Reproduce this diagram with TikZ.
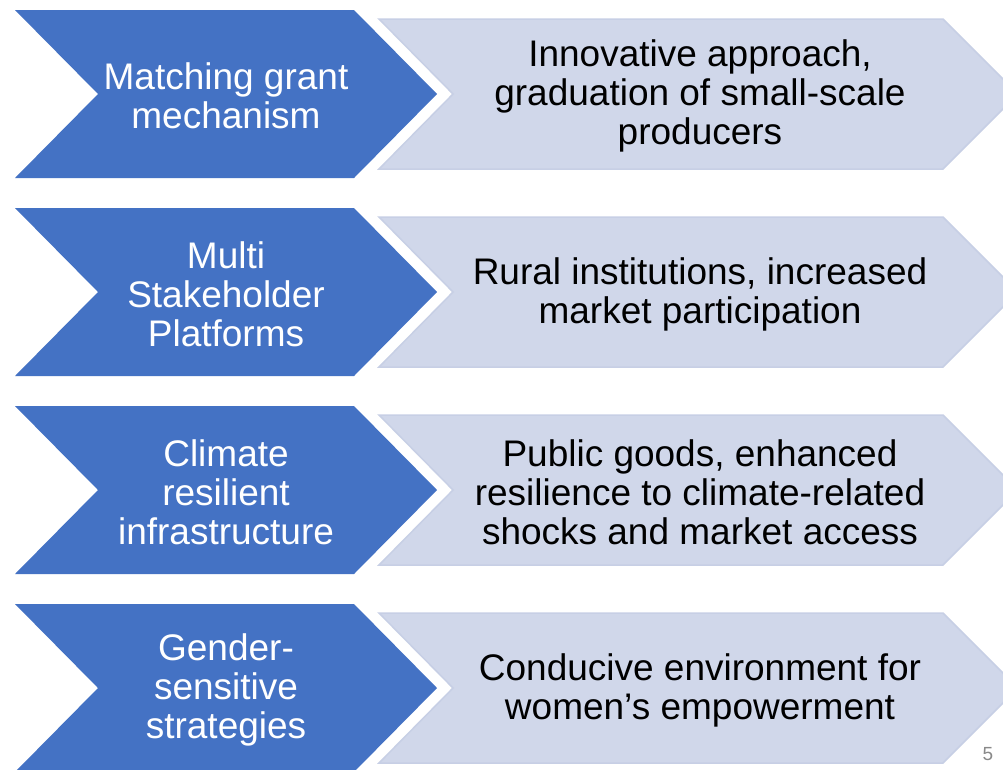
\documentclass[tikz,border=0pt]{standalone}
\usepackage{fontspec}
\setmainfont{Liberation Sans}
\definecolor{chevblue}{RGB}{68,114,196}
\definecolor{chevlight}{RGB}{208,215,234}
\definecolor{chevedge}{RGB}{199,207,229}
\definecolor{pagegray}{RGB}{137,137,137}
\tikzset{
  bluechev/.style={fill=chevblue},
  lightchev/.style={fill=chevlight, draw=chevedge, line width=1.5pt},
  bluetext/.style={text=white, align=center, font=\fontsize{37}{39}\selectfont, inner sep=0pt},
  lighttext/.style={text=black, align=center, font=\fontsize{37}{39}\selectfont, inner sep=0pt}
}
\begin{document}
\begin{tikzpicture}[x=1pt,y=-1pt]
\useasboundingbox (0,0) rectangle (1003,769);
\fill[white] (0,0) rectangle (1003,769);
\foreach \r/\lt/\rt in {
  0/{Matching grant\\mechanism}/{Innovative approach,\\graduation of small-scale\\producers},
  1/{Multi\\Stakeholder\\Platforms}/{Rural institutions, increased\\market participation},
  2/{Climate\\resilient\\infrastructure}/{Public goods, enhanced\\resilience to climate-related\\shocks and market access},
  3/{Gender-\\sensitive\\strategies}/{Conducive environment for\\women’s empowerment}}{
  \pgfmathsetmacro{\T}{10+198*\r}
  \path[lightchev] (379,\T+9) -- (943,\T+9) -- (1018,\T+84) -- (943,\T+159) -- (379,\T+159) -- (453,\T+84) -- cycle;
  \path[bluechev] (15,\T) -- (354,\T) -- (437,\T+84) -- (354,\T+168) -- (15,\T+168) -- (98,\T+84) -- cycle;
  \node[bluetext] (left\r) at (226,\T+86) {\lt};
  \node[lighttext] (right\r) at (700,\T+86) {\rt};
}
\node[text=pagegray, font=\fontsize{19}{22}\selectfont, inner sep=0pt, anchor=base] (pagenum) at (988,760) {5};
\end{tikzpicture}
\end{document}
